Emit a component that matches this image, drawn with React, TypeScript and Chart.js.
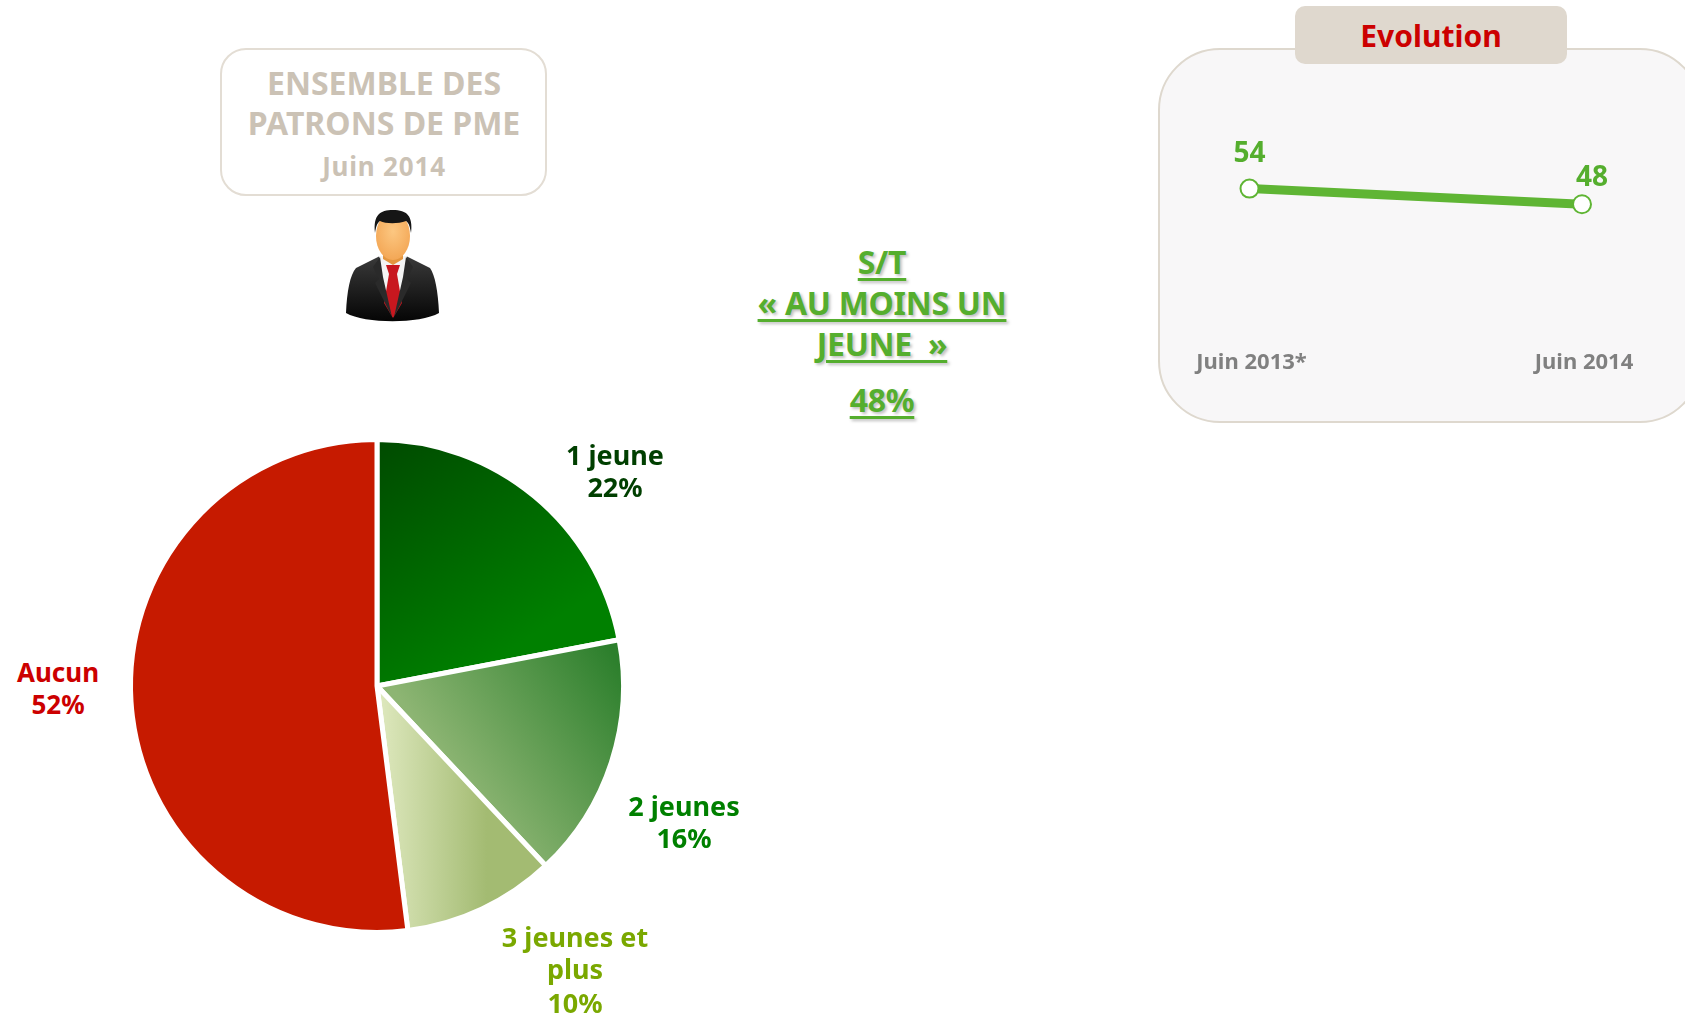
import React, { useEffect, useRef } from "react";
import { Chart, registerables } from "chart.js";

Chart.register(...registerables);

const pieCategories = ["1 jeune", "2 jeunes", "3 jeunes et plus", "Aucun"];
const pieValues = [22, 16, 10, 52];
const evolutionLabels = ["Juin 2013*", "Juin 2014"];
const evolutionValues = [54, 48];
const subtotalLines = ["S/T", "« AU MOINS UN", "JEUNE  »"];
const subtotalValue = "48%";
const headerLines = ["ENSEMBLE DES", "PATRONS DE PME"];
const headerDate = "Juin 2014";

const FONT = "'Noto Sans', sans-serif";
const GREEN = "#55ae2e";

function T(props: { x: number; y: number; size: number; color: string; children: React.ReactNode; style?: React.CSSProperties }) {
  return (
    <div
      style={{
        position: "absolute",
        left: props.x,
        top: props.y,
        transform: "translate(-50%,-50%)",
        fontFamily: FONT,
        fontWeight: 700,
        fontSize: props.size,
        lineHeight: 1,
        color: props.color,
        whiteSpace: "pre",
        ...props.style,
      }}
    >
      {props.children}
    </div>
  );
}

function Man() {
  return (
    <svg style={{ position: "absolute", left: 340, top: 205, width: 105, height: 120 }} viewBox="0 0 105 120">
      <defs>
        <linearGradient id="suit" x1="0" y1="0" x2="0" y2="1">
          <stop offset="0" stopColor="#3a3a3a" />
          <stop offset="1" stopColor="#050505" />
        </linearGradient>
        <radialGradient id="skin" cx="0.5" cy="0.4" r="0.7">
          <stop offset="0" stopColor="#fcc781" />
          <stop offset="1" stopColor="#f2a24f" />
        </radialGradient>
      </defs>
      <path d="M6 108 C7 86 10 70 16 63 L40 51 L52 60 L66 51 L90 63 C95 70 98 86 99 108 C80 119 25 119 6 108Z" fill="url(#suit)" />
      <path d="M39 51 L67 51 L63 85 L53 112 L43 85Z" fill="#f4f4f4" />
      <path d="M46 60 L60 60 L57 69 L62 98 L53 113 L44 98 L49 69Z" fill="#c8171f" />
      <path d="M40 52 L33 62 L39 74 L35 78 L52 112 L43 72Z M66 52 L73 62 L67 74 L71 78 L54 112 L63 72Z" fill="#2a2a2a" />
      <path d="M43 42 L63 42 L63 54 L53 60 L43 54Z" fill="#e4963f" />
      <ellipse cx="53" cy="31" rx="17" ry="24" fill="url(#skin)" />
      <path d="M35 28 C33 10 40 5 53 5 C67 5 73 11 71 28 C70 22 69 18 66 16 C58 19 46 19 40 16 C37 18 36 22 35 28Z" fill="#151515" />
    </svg>
  );
}

export default function App() {
  const pieRef = useRef<HTMLCanvasElement>(null);
  const lineRef = useRef<HTMLCanvasElement>(null);

  useEffect(() => {
    const segFill = (c: any) => {
      const chart = c.chart;
      const a = chart.chartArea;
      if (!a) return "#000";
      const cx = (a.left + a.right) / 2;
      const cy = (a.top + a.bottom) / 2;
      const r = 244;
      const g2d = chart.ctx as CanvasRenderingContext2D;
      if (c.dataIndex === 0) {
        const g = g2d.createLinearGradient(cx - 0.02 * r, cy - r, cx + 0.55 * r, cy - 0.15 * r);
        g.addColorStop(0, "#004a00");
        g.addColorStop(1, "#008000");
        return g;
      }
      if (c.dataIndex === 1) {
        const g = g2d.createLinearGradient(cx + 0.3 * r, cy + 0.35 * r, cx + 0.98 * r, cy - 0.12 * r);
        g.addColorStop(0, "#8db573");
        g.addColorStop(1, "#2c7f2c");
        return g;
      }
      if (c.dataIndex === 2) {
        const g = g2d.createLinearGradient(cx, 0, cx + 0.45 * r, 0);
        g.addColorStop(0, "#dfe9bf");
        g.addColorStop(1, "#a3bb72");
        return g;
      }
      return "#c61a00";
    };

    const pie = new Chart(pieRef.current!, {
      type: "pie",
      data: {
        labels: pieCategories,
        datasets: [{ data: pieValues, backgroundColor: segFill, borderColor: "#ffffff", borderWidth: 5, radius: 246.5 } as any],
      },
      options: {
        animation: false,
        responsive: false,
        layout: { padding: 0 },
        plugins: { legend: { display: false }, tooltip: { enabled: false } },
      },
    });

    const valueLabels = {
      id: "valueLabels",
      afterDatasetsDraw(chart: any) {
        const pts = chart.getDatasetMeta(0).data;
        const ctx = chart.ctx;
        ctx.save();
        ctx.fillStyle = GREEN;
        ctx.font = `700 28px ${FONT}`;
        ctx.textAlign = "center";
        ctx.textBaseline = "middle";
        const shiftX = [0, 10];
        const shiftY = [-35, -26];
        evolutionValues.forEach((v, i) => ctx.fillText(String(v), pts[i].x + shiftX[i], pts[i].y + shiftY[i]));
        ctx.restore();
      },
    };

    const line = new Chart(lineRef.current!, {
      type: "line",
      data: {
        labels: evolutionLabels,
        datasets: [
          {
            data: evolutionValues,
            borderColor: "#5fb534",
            borderWidth: 9,
            pointRadius: 9,
            pointBackgroundColor: "#ffffff",
            pointBorderColor: "#5fb534",
            pointBorderWidth: 2,
            tension: 0,
            clip: false,
          } as any,
        ],
      },
      options: {
        animation: false,
        responsive: false,
        layout: { padding: { left: 89.5, right: 98, top: 20.7, bottom: 0 } },
        plugins: { legend: { display: false }, tooltip: { enabled: false } },
        scales: {
          x: {
            offset: false,
            grid: { display: false },
            border: { display: false },
            ticks: { color: "#808080", font: { family: FONT, weight: "bold", size: 22 }, padding: 12, maxRotation: 0, labelOffset: 2 },
          },
          y: { display: false, min: 0, max: 80 },
        },
      },
      plugins: [valueLabels],
    });

    return () => {
      pie.destroy();
      line.destroy();
    };
  }, []);

  const subtotalStyle: React.CSSProperties = {
    textDecoration: "underline",
    textDecorationThickness: 3,
    textUnderlineOffset: 4,
    textShadow: "2px 2px 3px rgba(0,0,0,0.25)",
    letterSpacing: -0.3,
  };

  return (
    <div style={{ position: "absolute", left: 0, top: 0, width: 1685, height: 1018, overflow: "hidden", background: "#fff" }}>
      {/* Header box */}
      <div style={{ position: "absolute", left: 220, top: 48, width: 323, height: 144, border: "2px solid #e3ddd4", borderRadius: 26 }} />
      <T x={384} y={83} size={32} color="#cbc2b5">{headerLines[0]}</T>
      <T x={384} y={123} size={32} color="#cbc2b5">{headerLines[1]}</T>
      <T x={384} y={166} size={26} color="#cbc2b5" style={{ letterSpacing: 0.8 }}>{headerDate}</T>
      <Man />

      {/* Subtotal */}
      {subtotalLines.map((l, i) => (
        <T key={i} x={882} y={[262, 303, 344][i]} size={32} color={GREEN} style={subtotalStyle}>
          {l}
        </T>
      ))}
      <T x={882} y={400} size={32} color={GREEN} style={subtotalStyle}>
        {subtotalValue}
      </T>

      {/* Evolution panel */}
      <div style={{ position: "absolute", left: 1158, top: 48, width: 540, height: 371, background: "#f8f7f8", border: "2px solid #ded8ce", borderRadius: 62 }} />
      <div style={{ position: "absolute", left: 1295, top: 6, width: 272, height: 58, background: "#dfd8ce", borderRadius: 10 }} />
      <T x={1431} y={36} size={30} color="#cc0000">Evolution</T>
      <canvas ref={lineRef} width={520} height={288} style={{ position: "absolute", left: 1160, top: 100, display: "block" }} />

      {/* Pie */}
      <canvas ref={pieRef} width={520} height={520} style={{ position: "absolute", left: 116.5, top: 425.5, display: "block" }} />
      <T x={615} y={454} size={27} color="#003f00">{pieCategories[0]}</T>
      <T x={615} y={486} size={27} color="#003f00">{pieValues[0]}%</T>
      <T x={684} y={805} size={27} color="#008000">{pieCategories[1]}</T>
      <T x={684} y={837} size={27} color="#008000">{pieValues[1]}%</T>
      <T x={575} y={936} size={27} color="#7aa800">3 jeunes et</T>
      <T x={575} y={968} size={27} color="#7aa800">plus</T>
      <T x={575} y={1002} size={27} color="#7aa800">{pieValues[2]}%</T>
      <T x={58} y={672} size={26} color="#cc0000">{pieCategories[3]}</T>
      <T x={58} y={704} size={26} color="#cc0000">{pieValues[3]}%</T>
    </div>
  );
}
